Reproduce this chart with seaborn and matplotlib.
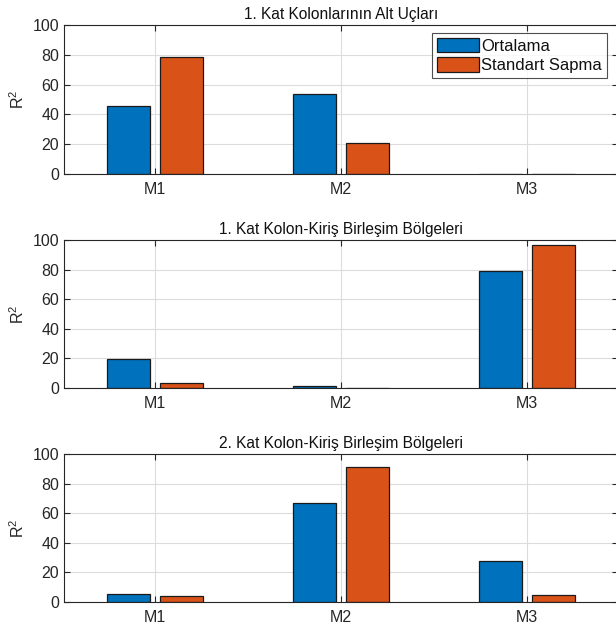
import matplotlib
matplotlib.use("Agg")
import matplotlib.pyplot as plt
import seaborn as sns
import pandas as pd

# Model names and statistic names
models = ["M1", "M2", "M3"]
stats = ["Ortalama", "Standart Sapma"]

# Panel titles
titles = [
    "1. Kat Kolonlarının Alt Uçları",
    "1. Kat Kolon-Kiriş Birleşim Bölgeleri",
    "2. Kat Kolon-Kiriş Birleşim Bölgeleri",
]

# R^2 values (%) per panel: mean and standard deviation for M1..M3
p1_mean = [45.9, 53.5, 0.3]
p1_std = [78.7, 20.8, 0.2]
p2_mean = [19.6, 1.1, 78.9]
p2_std = [3.1, 0.2, 96.9]
p3_mean = [5.4, 66.7, 27.7]
p3_std = [3.8, 91.2, 4.5]

yticks = [0, 20, 40, 60, 80, 100]

panels = [(p1_mean, p1_std), (p2_mean, p2_std), (p3_mean, p3_std)]
colors = ["#0072BD", "#D95319"]
dark = "#262626"

sns.set_theme(style="white")
plt.rcParams["font.family"] = ["Liberation Sans", "DejaVu Sans"]
plt.rcParams["mathtext.fontset"] = "custom"
plt.rcParams["mathtext.rm"] = "Liberation Sans"
plt.rcParams["mathtext.it"] = "Liberation Sans"
plt.rcParams["mathtext.default"] = "regular"

fig = plt.figure(figsize=(6.16, 6.32), dpi=100)
W, H = 616, 632
left_px, right_px = 64, 618
boxes = [(25, 174), (240, 388), (454, 602)]

for i, ((mean, std), (top, bot)) in enumerate(zip(panels, boxes)):
    ax = fig.add_axes([left_px / W, 1 - bot / H, (right_px - left_px) / W, (bot - top) / H])
    df = pd.DataFrame({
        "model": models * 2,
        "stat": [stats[0]] * 3 + [stats[1]] * 3,
        "value": list(mean) + list(std),
    })
    sns.barplot(data=df, x="model", y="value", hue="stat", order=models,
                hue_order=stats, palette=colors, width=0.576, gap=0.2,
                edgecolor="#1a1a1a", linewidth=0.9, saturation=1,
                errorbar=None, ax=ax, legend=(i == 0))
    ax.set_xlim(-0.49, 2.49)
    ax.set_ylim(0, 100)
    ax.set_yticks(yticks)
    ax.set_xlabel("")
    ax.set_ylabel("R$^2$", fontsize=11.5, color=dark, labelpad=4)
    ax.set_title(titles[i], fontsize=11.2, color="#111111", pad=4)
    ax.grid(True, color="#dcdcdc", linewidth=0.8)
    ax.set_axisbelow(True)
    ax.tick_params(axis="both", direction="in", length=4, width=0.8,
                   colors=dark, labelsize=11.5, top=True, right=True,
                   bottom=True, left=True)
    ax.tick_params(axis="x", pad=6)
    for side in ["left", "bottom", "top", "right"]:
        ax.spines[side].set_color(dark)
        ax.spines[side].set_linewidth(0.8)
    if i == 0:
        leg = ax.legend(loc="upper right",
                        bbox_to_anchor=((607 - left_px) / (right_px - left_px), (174 - 33) / (174 - 25)),
                        fontsize=12, frameon=True, fancybox=False,
                        handlelength=2.5, handleheight=0.95, handletextpad=0.15,
                        borderpad=0.3, labelspacing=0.2, borderaxespad=0)
        leg.get_frame().set_edgecolor("#222222")
        leg.get_frame().set_linewidth(0.8)
        for t in leg.get_texts():
            t.set_color("#111111")

fig.savefig("out.png", dpi=100)
